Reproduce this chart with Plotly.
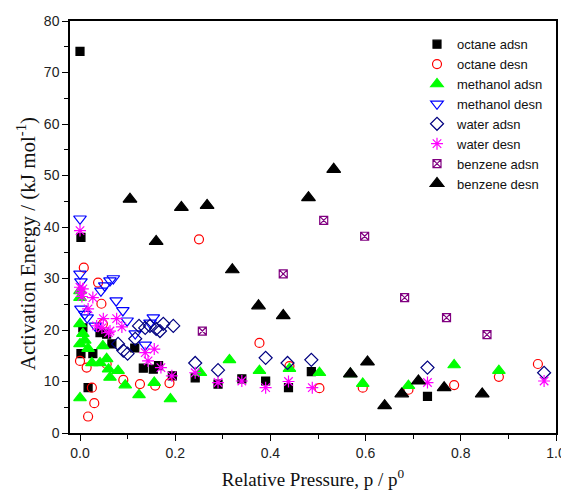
import plotly.graph_objects as go

octane_adsn_x = [0.0, 0.002, 0.002, 0.006, 0.027, 0.017, 0.042, 0.056, 0.067, 0.115, 0.133, 0.154, 0.165, 0.194, 0.242, 0.29, 0.34, 0.39, 0.438, 0.486, 0.73]
octane_adsn_y = [74.1, 38.0, 15.4, 20.4, 15.4, 8.8, 19.5, 19.2, 17.3, 16.5, 12.6, 12.4, 13.1, 11.1, 10.7, 9.5, 10.5, 10.1, 8.8, 11.9, 7.1]

octane_desn_x = [0.008, 0.038, 0.045, 0.048, 0.0, 0.014, 0.025, 0.03, 0.017, 0.056, 0.091, 0.126, 0.158, 0.188, 0.25, 0.377, 0.44, 0.503, 0.594, 0.69, 0.786, 0.88, 0.962]
octane_desn_y = [32.1, 29.2, 25.1, 21.2, 14.0, 12.7, 8.8, 5.8, 3.2, 13.4, 10.3, 9.5, 9.2, 9.7, 37.6, 17.5, 13.0, 8.7, 8.8, 8.4, 9.3, 10.9, 13.4]

methanol_adsn_x = [0.0, 0.0, 0.0, 0.0, 0.0, 0.006, 0.01, 0.017, 0.025, 0.042, 0.048, 0.056, 0.06, 0.063, 0.08, 0.095, 0.124, 0.156, 0.19, 0.253, 0.314, 0.377, 0.44, 0.503, 0.568, 0.594, 0.69, 0.786, 0.88]
methanol_adsn_y = [6.8, 21.2, 17.3, 26.3, 27.6, 19.3, 18.0, 16.4, 13.6, 13.6, 16.9, 14.4, 12.4, 10.8, 12.1, 9.3, 7.4, 9.8, 6.6, 11.7, 14.2, 12.1, 12.5, 11.7, 11.5, 9.6, 9.2, 13.2, 12.1]

methanol_desn_x = [0.0, 0.0, 0.002, 0.002, 0.01, 0.015, 0.032, 0.044, 0.052, 0.063, 0.07, 0.076, 0.09, 0.099, 0.116, 0.137, 0.147, 0.154]
methanol_desn_y = [41.6, 30.9, 29.4, 24.1, 23.1, 22.4, 20.8, 27.6, 28.6, 29.6, 30.0, 25.7, 23.8, 21.8, 19.3, 17.1, 21.4, 22.4]

water_adsn_x = [0.08, 0.091, 0.1, 0.116, 0.124, 0.137, 0.147, 0.16, 0.168, 0.175, 0.196, 0.242, 0.29, 0.39, 0.436, 0.486, 0.73, 0.975]
water_adsn_y = [17.3, 16.0, 15.4, 18.3, 20.8, 20.4, 20.8, 20.2, 19.8, 21.2, 20.8, 13.6, 12.2, 14.6, 13.6, 14.2, 12.7, 11.7]

water_desn_x = [0.0, 0.0, 0.002, 0.004, 0.006, 0.027, 0.017, 0.049, 0.035, 0.063, 0.077, 0.088, 0.046, 0.06, 0.137, 0.156, 0.143, 0.17, 0.193, 0.242, 0.29, 0.34, 0.39, 0.438, 0.488, 0.73, 0.975]
water_desn_y = [39.3, 28.3, 27.2, 26.5, 28.0, 26.3, 24.1, 22.2, 20.8, 19.8, 22.2, 20.6, 20.4, 19.5, 15.6, 16.3, 14.0, 12.7, 11.1, 11.7, 9.8, 10.1, 8.8, 10.0, 8.8, 9.8, 10.1]

benzene_adsn_x = [0.257, 0.427, 0.512, 0.598, 0.682, 0.77, 0.855]
benzene_adsn_y = [19.8, 30.9, 41.3, 38.2, 26.3, 22.4, 19.1]

benzene_desn_x = [0.105, 0.16, 0.213, 0.267, 0.32, 0.375, 0.427, 0.48, 0.533, 0.568, 0.604, 0.64, 0.676, 0.711, 0.765, 0.845]
benzene_desn_y = [45.4, 37.2, 43.8, 44.2, 31.7, 24.7, 22.8, 45.7, 51.2, 11.5, 13.8, 5.3, 7.6, 10.1, 8.8, 7.6]

series = [
    ("octane adsn", octane_adsn_x, octane_adsn_y, "square", "#000000", 8),
    ("octane desn", octane_desn_x, octane_desn_y, "circle-open", "#FF0000", 9),
    ("methanol adsn", methanol_adsn_x, methanol_adsn_y, "triangle-up", "#00FF00", 11),
    ("methanol desn", methanol_desn_x, methanol_desn_y, "triangle-down-open", "#0000FF", 11),
    ("water adsn", water_adsn_x, water_adsn_y, "diamond-open", "#000080", 10),
    ("water desn", water_desn_x, water_desn_y, "asterisk-open", "#FF00FF", 10),
    ("benzene adsn", benzene_adsn_x, benzene_adsn_y, "square-x-open", "#800080", 8),
    ("benzene desn", benzene_desn_x, benzene_desn_y, "triangle-up", "#000000", 12),
]

fig = go.Figure()
for name, xs, ys, sym, col, sz in series:
    fig.add_trace(go.Scatter(
        x=xs, y=ys, mode="markers", name=name,
        marker=dict(symbol=sym, color=col, size=sz, line=dict(color=col, width=1.2)),
    ))

axis_common = dict(
    showline=True, linecolor="black", linewidth=1.5, mirror=True,
    ticks="outside", ticklen=6, tickwidth=1.2, tickcolor="black",
    showgrid=False, zeroline=False, automargin=False,
    tickfont=dict(family="Liberation Sans, Arial", size=14, color="#222"),
)

fig.update_xaxes(
    range=[-0.021, 1.0], dtick=0.2, tick0=0, tickformat=".1f",
    minor=dict(ticks="outside", ticklen=4, dtick=0.1, tickcolor="black"),
    title=dict(text="Relative Pressure, p / p<sup>0</sup>",
               font=dict(family="Liberation Serif, Times New Roman", size=19, color="#111"), standoff=13),
    **axis_common,
)
fig.update_yaxes(
    range=[0, 80], dtick=10,
    minor=dict(ticks="outside", ticklen=4, dtick=5, tickcolor="black"),
    **axis_common,
)

fig.add_annotation(
    text="Activation Energy / (kJ mol<sup>-1</sup>)",
    xref="paper", yref="paper", x=-0.089, y=0.46, xanchor="center", yanchor="middle",
    textangle=-90, showarrow=False,
    font=dict(family="Liberation Serif, Times New Roman", size=21, color="#111"),
)

fig.update_layout(
    width=561, height=484,
    margin=dict(l=62, r=13, t=13, b=59),
    plot_bgcolor="white", paper_bgcolor="white",
    legend=dict(x=0.714, y=0.98, xanchor="left", yanchor="top",
                font=dict(family="Liberation Sans, Arial", size=13, color="#111"),
                bgcolor="rgba(0,0,0,0)", tracegroupgap=0, itemsizing="trace"),
    showlegend=True,
)

fig.write_html("out.html")
